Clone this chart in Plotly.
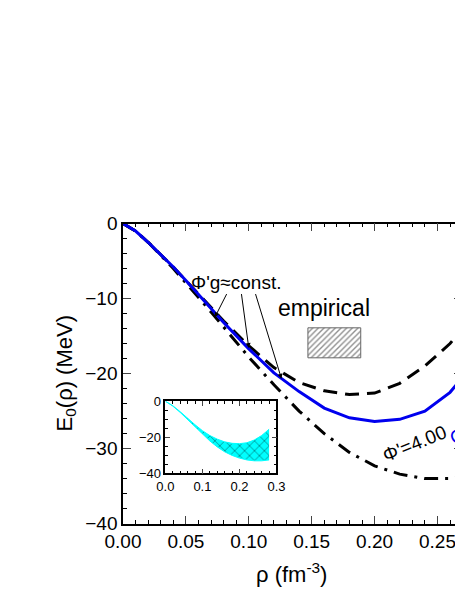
import plotly.graph_objects as go

rho = [0.0, 0.01, 0.02, 0.03, 0.04, 0.05, 0.06, 0.07, 0.08, 0.10, 0.12, 0.14, 0.16, 0.18, 0.20, 0.22, 0.24, 0.26, 0.27]
e_qcd = [0.0, -1.0, -2.5, -4.1, -5.8, -7.6, -9.5, -11.4, -13.2, -16.7, -19.9, -22.4, -24.6, -25.9, -26.4, -26.1, -25.0, -22.5, -20.5]
e_dash = [0.0, -1.0, -2.5, -4.1, -5.8, -7.6, -9.4, -11.2, -13.0, -16.3, -19.2, -21.2, -22.3, -22.8, -22.6, -21.3, -19.0, -16.0, -14.0]
e_dd = [0.0, -1.0, -2.5, -4.2, -6.0, -7.9, -9.8, -11.8, -13.8, -17.8, -21.5, -25.0, -28.0, -30.5, -32.3, -33.4, -34.0, -34.0, -33.8]

rho_in = [0.0, 0.02, 0.04, 0.06, 0.08, 0.10, 0.12, 0.14, 0.16, 0.18, 0.20, 0.22, 0.24, 0.26, 0.28]
band_hi = [0.0, -2.5, -5.8, -9.5, -13.0, -16.3, -19.0, -21.0, -22.5, -23.3, -23.5, -23.0, -21.5, -19.0, -15.5]
band_lo = [0.0, -2.7, -6.2, -10.2, -14.2, -18.3, -22.0, -25.3, -28.0, -30.0, -31.5, -32.5, -33.0, -33.0, -32.5]

emp_x = [0.147, 0.189]
emp_y = [-17.9, -13.9]

fig = go.Figure()
fig.add_trace(go.Scatter(x=rho, y=e_dd, mode="lines", line=dict(color="black", width=3, dash="14px,7px,3px,7px")))
fig.add_trace(go.Scatter(x=rho, y=e_dash, mode="lines", line=dict(color="black", width=3, dash="14px,8px")))
fig.add_trace(go.Scatter(x=rho, y=e_qcd, mode="lines", line=dict(color="#0000ee", width=3)))
fig.add_trace(go.Scatter(x=[emp_x[0], emp_x[1], emp_x[1], emp_x[0], emp_x[0]],
                         y=[emp_y[0], emp_y[0], emp_y[1], emp_y[1], emp_y[0]],
                         mode="lines", fill="toself", line=dict(color="#666", width=1),
                         fillcolor="white", fillpattern=dict(shape="/", size=4, solidity=0.35, fgcolor="#222")))
# inset
fig.add_trace(go.Scatter(x=rho_in, y=band_hi, mode="lines", line=dict(color="cyan", width=1), xaxis="x2", yaxis="y2"))
fig.add_trace(go.Scatter(x=rho_in, y=band_lo, mode="lines", line=dict(color="cyan", width=1), fill="tonexty",
                         fillcolor="cyan", fillpattern=dict(shape="x", size=7, solidity=0.2, fgcolor="black", bgcolor="cyan"),
                         xaxis="x2", yaxis="y2"))

ax = dict(showline=True, linecolor="black", linewidth=1.5, mirror="ticks", ticks="inside", ticklen=8,
          showgrid=False, zeroline=False, tickfont=dict(family="Liberation Sans", size=19, color="black"))
fig.update_layout(
    width=463, height=599, margin=dict(l=0, r=0, t=0, b=0), showlegend=False,
    plot_bgcolor="white", paper_bgcolor="white",
    xaxis=dict(ax, domain=[0.2225, 1.0], range=[0, 0.2695], dtick=0.05, tickformat=".2f",
               minor=dict(dtick=0.01, ticks="inside", ticklen=4, tickcolor="black")),
    yaxis=dict(ax, domain=[0.1252, 0.6444], range=[-40, 0], dtick=10,
               minor=dict(dtick=2, ticks="inside", ticklen=4, tickcolor="black")),
    xaxis2=dict(ax, domain=[0.3197, 0.5745], range=[0, 0.3], dtick=0.1, tickformat=".1f", anchor="y2",
                ticklen=5, tickfont=dict(family="Liberation Sans", size=13, color="black"),
                minor=dict(dtick=0.02, ticks="inside", ticklen=3, tickcolor="black")),
    yaxis2=dict(ax, domain=[0.212, 0.337], range=[-40, 0], dtick=20, anchor="x2",
                ticklen=5, tickfont=dict(family="Liberation Sans", size=13, color="black"),
                minor=dict(dtick=5, ticks="inside", ticklen=3, tickcolor="black")),
)
f = dict(family="Liberation Sans", size=22, color="black")
fig.add_annotation(xref="paper", yref="paper", x=0.055, y=0.385, text="E<sub>0</sub>(ρ) (MeV)", textangle=-90, showarrow=False, font=f)
fig.add_annotation(xref="paper", yref="paper", x=0.61, y=0.012, text="ρ (fm<sup>-3</sup>)", showarrow=False, font=f)
fig.add_annotation(x=0.16, y=-11.3, text="empirical", showarrow=False, font=dict(family="Liberation Sans", size=23, color="black"))
fig.add_annotation(x=0.09, y=-7.9, text="Φ'g≈const.", showarrow=False, font=dict(family="Liberation Sans", size=19, color="black"))
for (tx, ty, ax_, ay_) in [(0.073, -12.5, 0.083, -9.2), (0.10, -16.6, 0.094, -9.2), (0.126, -20.7, 0.105, -9.2)]:
    fig.add_annotation(x=tx, y=ty, ax=ax_, ay=ay_, axref="x", ayref="y", text="", showarrow=True,
                       arrowhead=2, arrowsize=1, arrowwidth=1, arrowcolor="black")
fig.add_annotation(x=0.232, y=-29.3, text="Φ'=4.00", textangle=-22, showarrow=False, font=dict(family="Liberation Sans", size=19, color="black"))
fig.add_annotation(x=0.263, y=-15.0, text="Φ'=", textangle=-62, showarrow=False, xanchor="left", font=dict(family="Liberation Sans", size=19, color="black"))
fig.add_annotation(x=0.255, y=-27.6, text="QCD", textangle=-25, showarrow=False, xanchor="left", font=dict(family="Liberation Sans", size=19, color="#0000ee"))
fig.write_html("out.html")
